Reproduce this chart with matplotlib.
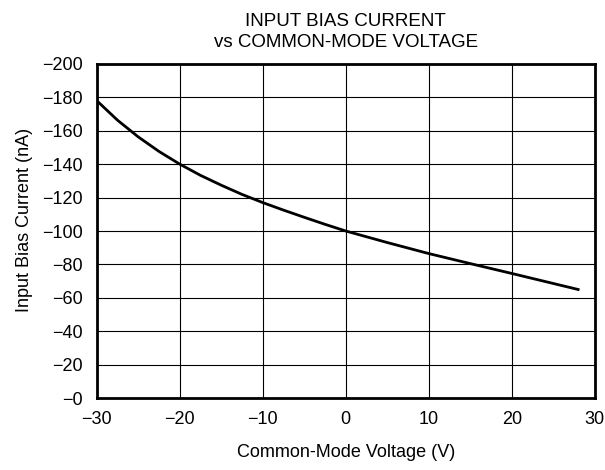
import matplotlib
matplotlib.use("Agg")
import matplotlib.pyplot as plt

plt.rcParams['font.family'] = ['Liberation Sans', 'DejaVu Sans']

# common-mode voltage (V) and input bias current (nA)
vcm = [-30, -27.5, -25, -22.5, -20, -17.5, -15, -12.5, -10, -7.5, -5, -2.5,
       0, 5, 10, 15, 20, 24, 28]
ib = [-178, -166.3, -156.3, -147.6, -140, -133.3, -127.4, -121.9, -117, -112.5, -108.2, -104.0,
      -100, -93.1, -86.5, -80.5, -74.6, -69.8, -65]

xticks = [-30, -20, -10, 0, 10, 20, 30]
yticks = [0, -20, -40, -60, -80, -100, -120, -140, -160, -180, -200]

def minus(v):
    # datasheet style: "-0" is shown on the y axis
    if v == 0:
        return '\u22120'
    return str(v).replace('-', '\u2212')

fig = plt.figure(figsize=(6.05, 4.7), dpi=100)
ax = fig.add_axes([0.160, 0.153, 0.823, 0.711])

ax.plot(vcm, ib, color='black', lw=2)

ax.set_xlim(-30, 30)
ax.set_ylim(0, -200)
ax.set_xticks(xticks)
ax.set_xticklabels([str(t).replace('-', '\u2212') for t in xticks])
ax.set_yticks(yticks)
ax.set_yticklabels([minus(t) for t in yticks])
ax.tick_params(length=0, labelsize=13)
ax.tick_params(axis='x', pad=9)
ax.tick_params(axis='y', pad=10)
ax.grid(True, color='black', lw=0.8)
for s in ax.spines.values():
    s.set_linewidth(2)

ax.set_xlabel('Common-Mode Voltage (V)', fontsize=13, labelpad=12)
ax.set_ylabel('Input Bias Current (nA)', fontsize=13)
ax.yaxis.set_label_coords(-0.128, 0.533)
ax.set_title('INPUT BIAS CURRENT\nvs COMMON-MODE VOLTAGE', fontsize=13.5, pad=12, linespacing=1.3)

fig.savefig('out.png', dpi=100)
